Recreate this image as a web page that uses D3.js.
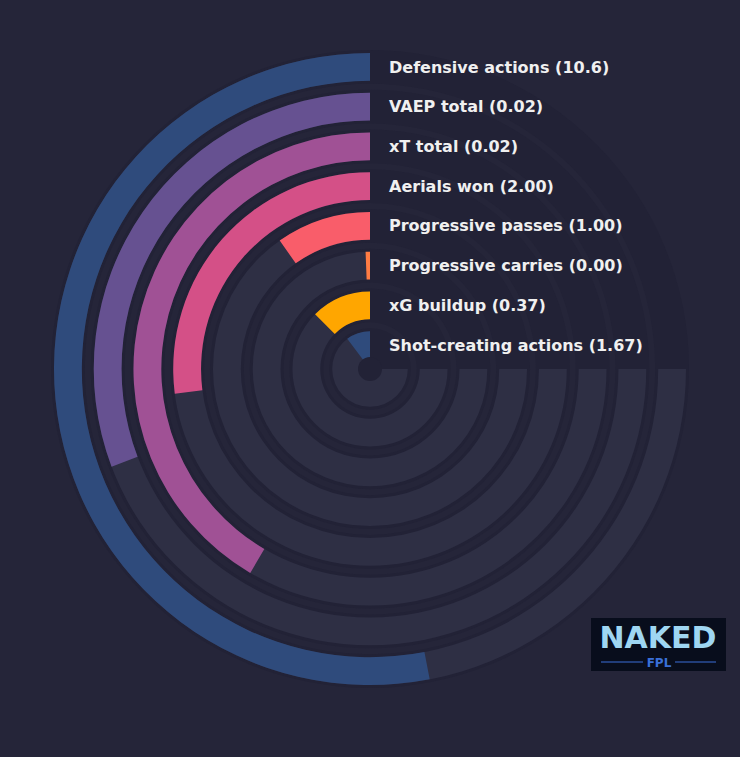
<!DOCTYPE html><html><head><script src="https://cdn.jsdelivr.net/npm/d3@7"></script>
<style>body{margin:0;background:#252539}</style></head><body><svg id="c" width="740" height="757"></svg>
<script>
const categories=["Defensive actions","VAEP total","xT total","Aerials won","Progressive passes","Progressive carries","xG buildup","Shot-creating actions"];
const values=["10.6","0.02","0.02","2.00","1.00","0.00","0.37","1.67"];
const fractions=[0.707,0.41,0.554,0.36,0.13,0.008,0.167,0.137];
const colors=["#2f4b7c","#665191","#a05195","#d45087","#f95d6a","#ff7c43","#ffa600","#2f4b7c"];
const svg=d3.select("#c"),cx=370,cy=369;
const g=svg.append("g").attr("transform",`translate(${cx},${cy})`);
const r=d3.scaleBand().domain(categories).range([316,10]).paddingInner(0.3);
const ang=d3.scaleLinear().domain([0,1]).range([0,-1.5*Math.PI]);
const arc=d3.arc().innerRadius(d=>r(d)).outerRadius(d=>r(d)+r.bandwidth());
categories.forEach((c,i)=>{
  const ri=r(c),ro=ri+r.bandwidth();
  g.append("path").attr("d",d3.arc()({innerRadius:ri-3,outerRadius:ro+3,startAngle:0,endAngle:2*Math.PI})).attr("fill","#222236");
  g.append("path").attr("d",d3.arc()({innerRadius:ri,outerRadius:ro,startAngle:0,endAngle:ang(1)})).attr("fill","#2e2f44");
  g.append("path").attr("d",d3.arc()({innerRadius:ri,outerRadius:ro,startAngle:0,endAngle:ang(fractions[i])})).attr("fill",colors[i]);
  svg.append("text").attr("x",389).attr("y",cy-ro+r.bandwidth()/2).attr("dy","0.35em")
    .attr("fill","#f0f0f0").attr("font-family","DejaVu Sans").attr("font-weight","bold").attr("font-size",16)
    .text(`${c} (${values[i]})`);
});
g.append("circle").attr("r",12).attr("fill","#222236");
const lg=svg.append("g").attr("transform","translate(591,618)");
lg.append("rect").attr("width",135).attr("height",53).attr("fill","#080d1c");
lg.append("text").attr("x",67).attr("y",30).attr("text-anchor","middle").attr("fill","#9fd6f2").attr("font-family","DejaVu Sans").attr("font-weight","bold").attr("font-size",30).text("NAKED");
lg.append("line").attr("x1",10).attr("x2",125).attr("y1",44).attr("y2",44).attr("stroke","#3a6fd8");
lg.append("rect").attr("x",52).attr("y",37).attr("width",32).attr("height",14).attr("fill","#080d1c");
lg.append("text").attr("x",68).attr("y",49).attr("text-anchor","middle").attr("fill","#3a6fd8").attr("font-family","DejaVu Sans").attr("font-weight","bold").attr("font-size",12).text("FPL");
</script></body></html>
